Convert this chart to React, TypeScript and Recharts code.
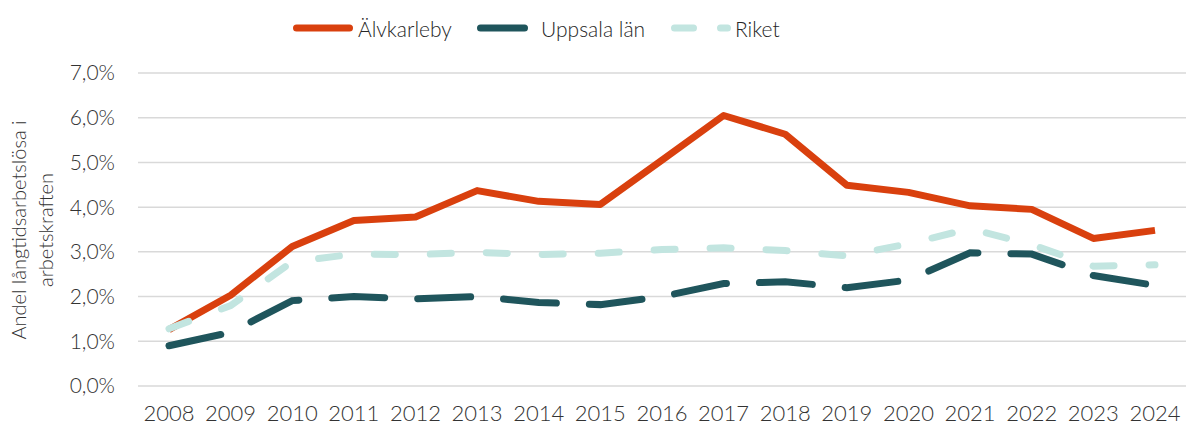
import { LineChart, Line, XAxis, YAxis, CartesianGrid } from "recharts";

const years = ["2008", "2009", "2010", "2011", "2012", "2013", "2014", "2015", "2016", "2017", "2018", "2019", "2020", "2021", "2022", "2023", "2024"];
const alvkarleby = [1.26, 2.03, 3.12, 3.7, 3.78, 4.37, 4.13, 4.06, 5.05, 6.05, 5.63, 4.49, 4.33, 4.03, 3.95, 3.3, 3.48];
const uppsala = [0.9, 1.2, 1.91, 2.0, 1.95, 2.0, 1.87, 1.82, 2.0, 2.29, 2.33, 2.2, 2.37, 2.98, 2.95, 2.47, 2.25];
const riket = [1.28, 1.8, 2.78, 2.95, 2.94, 2.99, 2.94, 2.97, 3.05, 3.09, 3.03, 2.91, 3.18, 3.52, 3.16, 2.68, 2.71];
const yTicks = [0, 1, 2, 3, 4, 5, 6, 7];

const ORANGE = "#d9400e";
const DARK = "#1f555c";
const LIGHT = "#c2e5e0";
const TEXT = "#333333";
const FONT = "Lato, 'Open Sans', sans-serif";

const data = years.map((year, i) => ({
  year,
  alv: alvkarleby[i],
  upp: uppsala[i],
  riket: riket[i],
}));

const fmt = (v: number) => `${v.toFixed(1).replace(".", ",")}%`;

const xTick = { fontSize: 22, fill: TEXT, fontFamily: FONT, fontWeight: 300 };
const yTick = { fontSize: 21, fill: TEXT, fontFamily: FONT, fontWeight: 300 };

// rotated two-line axis title, left of the ticks
function YLabel() {
  const cy = 230;
  return (
    <g fill={TEXT} fontSize={20} fontFamily={FONT} fontWeight={300}>
      <text x={18} y={cy} textAnchor="middle" dominantBaseline="central" transform={`rotate(-90, 18, ${cy})`}>
        Andel långtidsarbetslösa i
      </text>
      <text x={45} y={cy} textAnchor="middle" dominantBaseline="central" transform={`rotate(-90, 45, ${cy})`}>
        arbetskraften
      </text>
    </g>
  );
}

function LegendRow() {
  const y = 28;
  const text = { fontSize: 21, fontFamily: FONT, fontWeight: 300, fill: "#262626" };
  return (
    <svg style={{ position: "absolute", left: 0, top: 0 }} width={1186} height={50}>
      <line x1={296.5} y1={y} x2={349.5} y2={y} stroke={ORANGE} strokeWidth={7} strokeLinecap="round" />
      <text x={358} y={y} dominantBaseline="central" {...text}>Älvkarleby</text>
      <line x1={480.5} y1={y} x2={524.5} y2={y} stroke={DARK} strokeWidth={7} strokeLinecap="round" />
      <text x={541} y={y} dominantBaseline="central" {...text}>Uppsala län</text>
      <line x1={674.5} y1={y} x2={727.5} y2={y} stroke={LIGHT} strokeWidth={7} strokeLinecap="round" strokeDasharray="19 27" />
      <text x={735} y={y} dominantBaseline="central" {...text}>Riket</text>
    </svg>
  );
}

export default function App() {
  return (
    <div style={{ position: "absolute", left: 0, top: 0, width: 1186, height: 425, background: "#fff", overflow: "hidden" }}>
      <LegendRow />
      <LineChart width={1186} height={425} data={data} margin={{ top: 73, right: 0, bottom: 0, left: 0 }}>
        <CartesianGrid vertical={false} stroke="#d9d9d9" strokeWidth={1.5} />
        <XAxis
          dataKey="year"
          height={39}
          interval={0}
          tick={xTick}
          tickLine={false}
          axisLine={false}
          tickSize={0}
          tickMargin={19}
          padding={{ left: 31, right: 31 }}
        />
        <YAxis
          width={138}
          domain={[0, 7]}
          ticks={yTicks}
          tickFormatter={fmt}
          tick={yTick}
          tickLine={false}
          axisLine={false}
          tickSize={0}
          tickMargin={23}
        />
        <Line dataKey="alv" stroke={ORANGE} strokeWidth={7} dot={false} isAnimationActive={false} strokeLinejoin="round" />
        <Line dataKey="upp" stroke={DARK} strokeWidth={7} strokeDasharray="53 33" strokeLinecap="round" dot={false} isAnimationActive={false} />
        <Line dataKey="riket" stroke={LIGHT} strokeWidth={7} strokeDasharray="21 35" strokeLinecap="round" dot={false} isAnimationActive={false} />
      </LineChart>
      <svg style={{ position: "absolute", left: 0, top: 0 }} width={80} height={425}>
        <YLabel />
      </svg>
    </div>
  );
}
